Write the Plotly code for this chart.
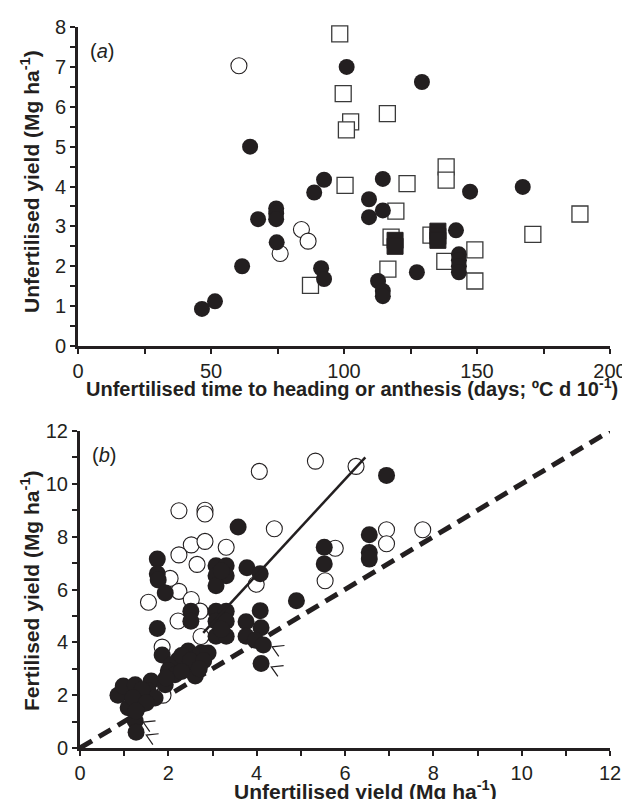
import plotly.graph_objects as go

# ---------------- Panel (a) data ----------------
a_open_circle_x = [60.5, 84, 86.5, 76]
a_open_circle_y = [7.03, 2.92, 2.63, 2.32]

a_filled_circle_x = [46.6, 51.5, 61.7, 64.7, 67.7, 74.5, 74.5, 74.5, 74.7, 88.8, 92.5, 91.4, 92.5,
                     101, 129.3, 109.4, 109.4, 114.6, 114.6, 112.8, 114.6, 114.6, 127.4, 142.1,
                     143.2, 143.2, 143.2, 143.2, 147.4, 167.2]
a_filled_circle_y = [0.93, 1.12, 2.0, 5.0, 3.18, 3.45, 3.32, 3.18, 2.6, 3.85, 4.17, 1.95, 1.68,
                     7.0, 6.62, 3.68, 3.23, 4.19, 3.4, 1.63, 1.38, 1.25, 1.85, 2.9,
                     2.3, 2.15, 2.0, 1.85, 3.87, 3.99]

a_open_square_x = [98.4, 99.7, 102.5, 100.9, 116.3, 100.4, 123.7, 138.4, 138.4, 119.5, 188.7,
                   171, 132.7, 117.7, 149.2, 137.9, 149.2, 116.5, 87.4]
a_open_square_y = [7.83, 6.33, 5.62, 5.42, 5.83, 4.03, 4.07, 4.49, 4.16, 3.38, 3.31,
                   2.8, 2.78, 2.73, 2.41, 2.12, 1.63, 1.93, 1.52]

a_filled_square_x = [135.3, 135.3, 135.3, 119.2, 119.2]
a_filled_square_y = [2.88, 2.75, 2.65, 2.65, 2.5]

# ---------------- Panel (b) data ----------------
b_open_x = [2.24, 2.83, 2.83, 4.06, 5.33, 6.25, 4.4, 2.52, 2.83, 2.24, 3.31, 2.65, 5.78, 5.55,
            2.04, 2.24, 1.55, 2.52, 3.99, 2.72, 6.94, 6.94, 7.76, 2.22, 2.74, 1.86, 1.88]
b_open_y = [8.98, 9.0, 8.86, 10.47, 10.86, 10.66, 8.3, 7.69, 7.82, 7.31, 7.6, 6.95, 7.56, 6.33,
            6.42, 5.93, 5.52, 5.62, 6.2, 5.18, 8.26, 7.73, 8.26, 4.81, 4.22, 3.82, 2.0]

b_filled_x = [3.58, 1.75, 1.75, 1.77, 1.93, 3.08, 3.31, 3.08, 3.31, 3.08, 3.2, 3.78, 4.08, 4.9,
              6.94, 6.55, 6.55, 6.55, 5.53, 5.53,
              4.08, 3.76, 4.1, 3.76, 3.97, 4.15, 4.1, 3.08, 3.31, 3.08, 3.31, 3.08, 3.31, 3.2,
              2.51, 2.51, 1.75,
              1.86, 2.06, 2.45, 2.63, 2.74, 2.9, 2.45, 2.61, 2.22, 2.0, 1.61, 1.54, 1.16, 0.86,
              0.98, 1.25, 1.32, 1.09, 1.25, 1.27, 1.93, 2.15, 1.7, 2.3, 2.5, 2.8, 2.7, 2.3,
              1.95, 1.4, 1.2, 1.5, 1.27]
b_filled_y = [8.37, 7.15, 6.6, 6.36, 5.87, 6.9, 6.9, 6.52, 6.52, 6.14, 6.7, 6.82, 6.6, 5.57,
              10.32, 8.07, 7.4, 7.15, 7.6, 6.97,
              5.2, 4.78, 4.55, 4.23, 4.08, 3.9, 3.2, 5.18, 5.18, 4.8, 4.8, 4.23, 4.23, 4.5,
              5.18, 4.8, 4.52,
              3.52, 3.14, 3.67, 3.41, 3.6, 3.6, 3.03, 2.73, 3.33, 2.92, 2.54, 2.16, 2.16, 2.0,
              2.35, 2.39, 1.78, 1.52, 1.02, 0.6, 2.39, 2.77, 1.89, 3.5, 3.3, 3.3, 3.0, 2.9,
              2.65, 2.2, 1.9, 1.7, 1.4]

# fitted line for open circles and 1:1 reference line
fit_slope = 1.81
fit_intercept = -0.69
fit_x_range = [2.79, 6.46]
one_to_one = [0, 12]

# chevron markers (apex positions)
chev_x = [4.35, 4.33, 1.43, 1.50]
chev_y = [3.83, 3.07, 0.98, 0.49]

INK = '#231f20'
FONT = 'Liberation Sans, Arial, sans-serif'

fig = go.Figure()

# ---- panel (a) ----
fig.add_trace(go.Scatter(x=a_open_square_x, y=a_open_square_y, mode='markers',
                         marker=dict(symbol='square', size=16, color='white',
                                     line=dict(color='#3a3a3a', width=1.3)),
                         xaxis='x', yaxis='y', cliponaxis=False, showlegend=False))
fig.add_trace(go.Scatter(x=a_filled_square_x, y=a_filled_square_y, mode='markers',
                         marker=dict(symbol='square', size=16, color=INK,
                                     line=dict(color=INK, width=1)),
                         xaxis='x', yaxis='y', cliponaxis=False, showlegend=False))
fig.add_trace(go.Scatter(x=a_open_circle_x, y=a_open_circle_y, mode='markers',
                         marker=dict(symbol='circle', size=16, color='white',
                                     line=dict(color=INK, width=1.1)),
                         xaxis='x', yaxis='y', cliponaxis=False, showlegend=False))
fig.add_trace(go.Scatter(x=a_filled_circle_x, y=a_filled_circle_y, mode='markers',
                         marker=dict(symbol='circle', size=16, color=INK,
                                     line=dict(color=INK, width=0)),
                         xaxis='x', yaxis='y', cliponaxis=False, showlegend=False))

# ---- panel (b) ----
fig.add_trace(go.Scatter(x=one_to_one, y=one_to_one, mode='lines',
                         line=dict(color=INK, width=5, dash='14px,8px'),
                         xaxis='x2', yaxis='y2', showlegend=False))
fig.add_trace(go.Scatter(x=b_open_x, y=b_open_y, mode='markers',
                         marker=dict(symbol='circle', size=16, color='white',
                                     line=dict(color=INK, width=1.1)),
                         xaxis='x2', yaxis='y2', cliponaxis=False, showlegend=False))
fig.add_trace(go.Scatter(x=b_filled_x, y=b_filled_y, mode='markers',
                         marker=dict(symbol='circle', size=17, color=INK,
                                     line=dict(color=INK, width=0)),
                         xaxis='x2', yaxis='y2', cliponaxis=False, showlegend=False))
fit_y = [fit_slope * v + fit_intercept for v in fit_x_range]
fig.add_trace(go.Scatter(x=fit_x_range, y=fit_y, mode='lines',
                         line=dict(color=INK, width=2.5),
                         xaxis='x2', yaxis='y2', showlegend=False))

# chevrons
cx, cy = [], []
for ax_, ay_ in zip(chev_x, chev_y):
    cx += [ax_ + 0.28, ax_, ax_ + 0.15, None]
    cy += [ay_ + 0.05, ay_, ay_ - 0.36, None]
fig.add_trace(go.Scatter(x=cx, y=cy, mode='lines', line=dict(color=INK, width=1.2),
                         xaxis='x2', yaxis='y2', cliponaxis=False, showlegend=False))

axis_common = dict(showline=True, linecolor=INK, linewidth=3, ticks='outside',
                   tickcolor=INK, tickwidth=2, ticklen=5, showgrid=False, zeroline=False,
                   tickfont=dict(family=FONT, size=20, color=INK), mirror=False,
                   automargin=False)
minor_common = dict(ticks='outside', ticklen=5, tickwidth=2, tickcolor=INK)

fig.update_layout(
    width=630, height=799,
    margin=dict(l=0, r=0, t=0, b=0, autoexpand=False),
    paper_bgcolor='white', plot_bgcolor='white',
    xaxis=dict(domain=[70/630, 602/630], range=[0, 200], tickvals=[0, 50, 100, 150, 200],
               minor=dict(tickvals=[25, 75, 125, 175], **minor_common),
               anchor='y', **axis_common),
    yaxis=dict(domain=[1 - 338/799, 1 - 19/799], range=[0, 8], dtick=1,
               minor=dict(dtick=0.5, **minor_common),
               anchor='x', **axis_common),
    xaxis2=dict(domain=[72/630, 602/630], range=[0, 12], tickvals=[0, 2, 4, 6, 8, 10, 12],
                minor=dict(dtick=1, **minor_common),
                anchor='y2', **axis_common),
    yaxis2=dict(domain=[1 - 740/799, 1 - 423/799], range=[0, 12], tickvals=[0, 2, 4, 6, 8, 10, 12],
                minor=dict(dtick=1, **minor_common),
                anchor='x2', **axis_common),
)

title_font = dict(family=FONT, size=21, color=INK)


def A(text, x, y, angle=0, xanchor='center', font=None):
    return dict(text=text, x=x / 630, y=1 - y / 799, xref='paper', yref='paper',
                xanchor=xanchor, yanchor='middle', textangle=angle, showarrow=False,
                font=font or title_font)


ann = [
    A('<b>Unfertilised time to heading or anthesis (days; ºC d 10<sup>-1</sup>)</b>', 344, 379,
      font=dict(family=FONT, size=20, color=INK)),
    A('<b>Unfertilised yield (Mg ha<sup>-1</sup>)</b>', 22, 174, angle=-90),
    A('<b>Unfertilised yield (Mg ha<sup>-1</sup>)</b>', 357, 782),
    A('<b>Fertilised yield (Mg ha<sup>-1</sup>)</b>', 22, 583, angle=-90),
    A('(<i>a</i>)', 80, 43, xanchor='left', font=dict(family=FONT, size=20, color=INK)),
    A('(<i>b</i>)', 82, 447, xanchor='left', font=dict(family=FONT, size=20, color=INK)),
]
fig.update_layout(annotations=ann)

fig.write_html('out.html')
